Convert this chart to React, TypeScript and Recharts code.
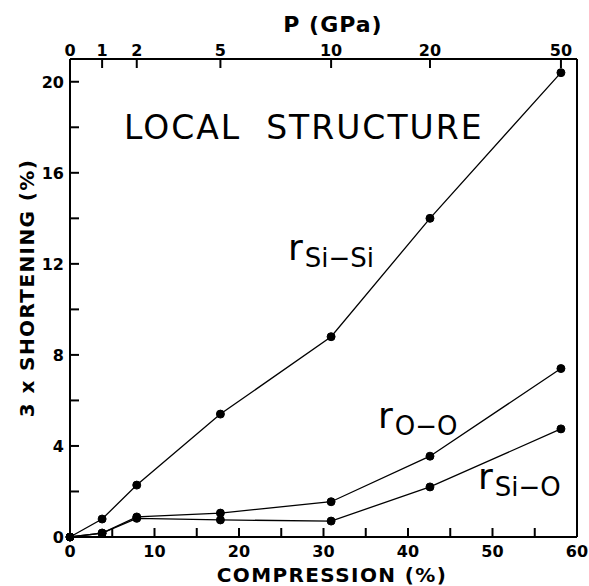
import React from 'react';
import { LineChart, Line, XAxis, YAxis } from 'recharts';

// compression (%) at each computed pressure point
const compression = [0, 3.8, 7.9, 17.8, 30.9, 42.6, 58.1];
const pressureLabels = ['0', '1', '2', '5', '10', '20', '50'];

// 3 x shortening (%) for each pair distance
const siSi = [0, 0.79, 2.28, 5.4, 8.8, 14.0, 20.4];
const oO = [0, 0.17, 0.88, 1.05, 1.55, 3.55, 7.4];
const siO = [0, 0.17, 0.82, 0.75, 0.7, 2.2, 4.75];

const xTicks = [0, 5, 10, 15, 20, 25, 30, 35, 40, 45, 50, 55, 60];
const yTicks = [0, 2, 4, 6, 8, 10, 12, 14, 16, 18, 20];
const rightTicks = [1, 2, 3, 4, 5, 6, 7, 8, 9, 10];

const rows = compression.map((c, i) => ({
  compression: c,
  siSi: siSi[i],
  oO: oO[i],
  siO: siO[i],
}));

const FONT = '"DejaVu Sans", sans-serif';
const tickText = { fontFamily: FONT, fontSize: 16, fontWeight: 700, fill: '#000' };

const BottomTick = ({ x, y, payload }: any) => (
  <g>
    <line x1={x} x2={x} y1={y} y2={y - 9} stroke="#000" strokeWidth={2} />
    {payload.value % 10 === 0 && (
      <text x={x} y={y + 20} textAnchor="middle" {...tickText}>
        {payload.value}
      </text>
    )}
  </g>
);

const TopTick = ({ x, y, index }: any) => (
  <g>
    <line x1={x} x2={x} y1={y} y2={y + 9} stroke="#000" strokeWidth={2} />
    <text x={x} y={y - 3} textAnchor="middle" {...tickText}>
      {pressureLabels[index]}
    </text>
  </g>
);

const LeftTick = ({ x, y, payload }: any) => (
  <g>
    <line x1={x} x2={x + 9} y1={y} y2={y} stroke="#000" strokeWidth={2} />
    {payload.value % 4 === 0 && (
      <text x={x - 6} y={y + 6} textAnchor="end" {...tickText}>
        {payload.value}
      </text>
    )}
  </g>
);

const RightTick = ({ x, y }: any) => (
  <line x1={x} x2={x - 9} y1={y} y2={y} stroke="#000" strokeWidth={2} />
);

const axisLine = { stroke: '#000', strokeWidth: 2 };
const dot = { r: 4, fill: '#000', stroke: '#000', strokeWidth: 1 };

const SubLabel = ({ x, y, sub }: { x: number; y: number; sub: string }) => (
  <text x={x} y={y} fontFamily={FONT} fill="#000">
    <tspan fontSize={36}>r</tspan>
    <tspan fontSize={26} dx={2} dy={7}>{sub}</tspan>
  </text>
);

export default function App() {
  return (
    <div style={{ position: 'absolute', left: 0, top: 0, width: 589, height: 586, background: '#fff' }}>
      <LineChart width={589} height={586} data={rows} margin={{ top: 0, right: 0, bottom: 0, left: 0 }}>
        <XAxis
          xAxisId="bottom"
          type="number"
          dataKey="compression"
          domain={[0, 60]}
          ticks={xTicks}
          interval={0}
          height={49}
          tickSize={0}
          tickMargin={0}
          tickLine={false}
          axisLine={axisLine}
          tick={<BottomTick />}
        />
        <XAxis
          xAxisId="top"
          orientation="top"
          type="number"
          dataKey="compression"
          domain={[0, 60]}
          ticks={compression}
          interval={0}
          height={59}
          tickSize={0}
          tickMargin={0}
          tickLine={false}
          axisLine={axisLine}
          tick={<TopTick />}
        />
        <YAxis
          yAxisId="left"
          type="number"
          domain={[0, 21]}
          ticks={yTicks}
          interval={0}
          width={70}
          tickSize={0}
          tickMargin={0}
          tickLine={false}
          axisLine={axisLine}
          tick={<LeftTick />}
        />
        <YAxis
          yAxisId="right"
          orientation="right"
          type="number"
          domain={[0, 10.93]}
          ticks={rightTicks}
          interval={0}
          width={12}
          tickSize={0}
          tickMargin={0}
          tickLine={false}
          axisLine={axisLine}
          tick={<RightTick />}
        />
        <Line xAxisId="bottom" yAxisId="left" dataKey="siSi" stroke="#000" strokeWidth={1.3} dot={dot} isAnimationActive={false} />
        <Line xAxisId="bottom" yAxisId="left" dataKey="oO" stroke="#000" strokeWidth={1.3} dot={dot} isAnimationActive={false} />
        <Line xAxisId="bottom" yAxisId="left" dataKey="siO" stroke="#000" strokeWidth={1.3} dot={dot} isAnimationActive={false} />
      </LineChart>
      <svg
        width={589}
        height={586}
        style={{ position: 'absolute', left: 0, top: 0, pointerEvents: 'none' }}
      >
        <text x={333} y={32} textAnchor="middle" fontFamily={FONT} fontSize={22} fontWeight={700} letterSpacing={1}>
          P (GPa)
        </text>
        <text x={332} y={582} textAnchor="middle" fontFamily={FONT} fontSize={20} fontWeight={700} letterSpacing={1.4}>
          COMPRESSION (%)
        </text>
        <text
          x={0}
          y={0}
          transform="translate(34,288) rotate(-90)"
          textAnchor="middle"
          fontFamily={FONT}
          fontSize={20}
          fontWeight={700}
          letterSpacing={1.4}
        >
          3 x SHORTENING (%)
        </text>
        <text x={124} y={139} fontFamily={FONT} fontSize={33} letterSpacing={2}>
          LOCAL&#160;&#160;STRUCTURE
        </text>
        <SubLabel x={288} y={260} sub="Si−Si" />
        <SubLabel x={378} y={428} sub="O−O" />
        <SubLabel x={478} y={489} sub="Si−O" />
      </svg>
    </div>
  );
}
